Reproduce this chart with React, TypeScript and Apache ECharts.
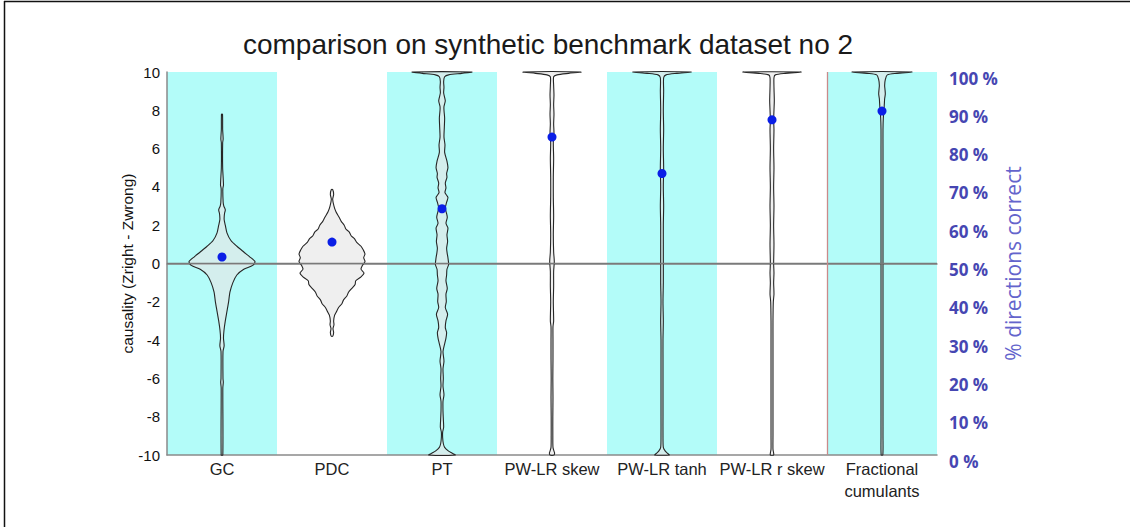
import React, { useEffect, useRef } from "react";
import * as echarts from "echarts";

// Methods compared on the benchmark
const categories = [
  "GC",
  "PDC",
  "PT",
  "PW-LR skew",
  "PW-LR tanh",
  "PW-LR r skew",
  "Fractional\ncumulants",
];

// Share of correctly identified directions per method (%)
const percentCorrect = [51.7, 55.6, 64.3, 83.0, 73.5, 87.5, 89.8];

// Causality axis range and step
const causalityMin = -10;
const causalityMax = 10;
const causalityStep = 2;

// Percent axis range and step
const percentMin = 0;
const percentMax = 100;
const percentStep = 10;

// Violin outlines: [causality value, relative density (100 = widest)]
const violinGC: [number, number][] = [
  [7.8, 1.5], [7.0, 2], [6.5, 3.5], [6.3, 2], [5.0, 2], [4.1, 4.5], [3.9, 2.5],
  [3.2, 3.5], [3.0, 5.5], [2.8, 10], [2.6, 7.5], [2.3, 6.5], [2.0, 10], [1.6, 15],
  [1.2, 27], [0.9, 45], [0.6, 66], [0.35, 84], [0.1, 100], [-0.1, 93], [-0.3, 66],
  [-0.6, 45], [-1.0, 33], [-1.5, 24], [-2.0, 20], [-2.5, 15], [-3.0, 10], [-3.5, 6],
  [-3.9, 4.5], [-4.3, 6.5], [-4.6, 3], [-6.0, 3], [-6.2, 4], [-6.5, 2.5], [-10, 2.5],
];
const violinPDC: [number, number][] = [
  [3.86, 2], [3.6, 5], [3.35, 2], [3.0, 6], [2.7, 12], [2.4, 22], [2.2, 28], [2.0, 37],
  [1.8, 42], [1.65, 52], [1.45, 58], [1.3, 68], [1.1, 75], [0.9, 88], [0.7, 95],
  [0.5, 100], [0.3, 96], [0.1, 100], [-0.1, 92], [-0.3, 88], [-0.5, 97], [-0.7, 88],
  [-0.9, 72], [-1.1, 70], [-1.3, 60], [-1.5, 50], [-1.7, 45], [-1.9, 35], [-2.1, 30],
  [-2.3, 20], [-2.5, 14], [-2.7, 8], [-3.0, 5], [-3.2, 6], [-3.4, 3], [-3.6, 5], [-3.8, 2],
];
const violinPT: [number, number][] = [
  [10, 90], [9.93, 60], [9.85, 20], [9.75, 8], [9.5, 5], [9.2, 6], [8.9, 5], [8.5, 10],
  [8.2, 6], [8.0, 6], [7.6, 8], [7.1, 7], [6.6, 6], [6.2, 9], [5.8, 8], [5.35, 15],
  [5.0, 18], [4.7, 14], [4.5, 15], [4.2, 10], [3.95, 12], [3.7, 9], [3.45, 18],
  [3.2, 14], [2.9, 10], [2.6, 14], [2.4, 16], [2.1, 12], [1.85, 18], [1.5, 15],
  [1.15, 17], [0.8, 14], [0.5, 16], [0.3, 18], [-0.05, 20], [-0.3, 15], [-0.6, 14],
  [-0.9, 12], [-1.3, 16], [-1.6, 12], [-2.0, 13], [-2.3, 10], [-2.65, 17], [-3.0, 12],
  [-3.35, 10], [-3.6, 14], [-3.9, 12], [-4.2, 8], [-4.6, 3], [-5.1, 6], [-5.5, 3],
  [-6.0, 4], [-6.4, 3], [-6.85, 6], [-7.2, 3], [-7.7, 3], [-8.1, 4], [-8.55, 5],
  [-8.8, 2], [-9.1, 2], [-9.4, 4], [-9.6, 8], [-9.8, 20], [-9.9, 30], [-10, 40],
];
const violinSkew: [number, number][] = [
  [10, 88], [9.93, 50], [9.85, 15], [9.75, 5], [9.3, 5], [8.8, 6], [8.3, 5], [7.8, 6],
  [7.3, 5], [6.8, 6], [6.3, 4], [5.5, 5], [4.5, 4], [3.5, 4], [2.5, 5], [1.5, 4],
  [0.6, 5], [0.1, 7], [-0.4, 5], [-1.2, 5], [-2.0, 4], [-3.0, 5], [-3.3, 3], [-4.0, 3],
  [-5.0, 3], [-6.0, 2.5], [-7.0, 3], [-8.0, 2.5], [-9.0, 2.5], [-9.6, 3], [-9.8, 6],
  [-9.9, 8], [-10, 6],
];
const violinTanh: [number, number][] = [
  [10, 88], [9.93, 45], [9.85, 12], [9.7, 5], [9.0, 5], [8.0, 4], [7.0, 5], [6.0, 4],
  [5.0, 5], [4.0, 4], [3.0, 5], [2.0, 4], [1.0, 4], [0.0, 4], [-1.0, 4], [-2.0, 3],
  [-3.0, 4], [-4.0, 3], [-5.0, 3], [-6.0, 3], [-7.0, 3], [-8.0, 3], [-9.0, 3],
  [-9.6, 4], [-9.8, 10], [-9.9, 16], [-10, 22],
];
const violinRSkew: [number, number][] = [
  [10, 88], [9.93, 40], [9.85, 10], [9.7, 6], [9.2, 6], [8.5, 7], [8.0, 6], [7.5, 5],
  [7.0, 6], [6.0, 5], [5.0, 6], [4.0, 5], [3.0, 6], [2.0, 5], [1.0, 6], [0.0, 5],
  [-0.5, 6], [-1.0, 5], [-1.6, 6], [-2.0, 4], [-3.0, 3], [-4.0, 3], [-5.0, 3],
  [-6.0, 3], [-7.0, 3], [-8.0, 3], [-9.0, 3], [-9.7, 3], [-9.9, 5], [-10, 5],
];
const violinFractional: [number, number][] = [
  [10, 90], [9.93, 45], [9.85, 16], [9.6, 10], [9.3, 8], [9.1, 9], [8.85, 10],
  [8.6, 8], [8.3, 7], [8.0, 6], [7.6, 4], [7.0, 3], [6.0, 3], [5.0, 3], [4.0, 3],
  [3.0, 3], [2.0, 3], [1.0, 3], [0.0, 3], [-1.0, 3], [-2.0, 3], [-3.0, 3], [-4.0, 3],
  [-5.0, 3], [-6.0, 3], [-7.0, 3], [-8.0, 3], [-9.0, 3], [-10, 2.5],
];

const violins = [
  violinGC,
  violinPDC,
  violinPT,
  violinSkew,
  violinTanh,
  violinRSkew,
  violinFractional,
];

const TITLE = "comparison on synthetic benchmark dataset no 2";
const AXIS_GRAY = "#8a8a8a";
const BAND_CYAN = "#b3fcf9";
const PERCENT_BLUE = "#4646b2";

export default function App() {
  const ref = useRef<HTMLDivElement>(null);

  useEffect(() => {
    if (!ref.current) return;
    const chart = echarts.init(ref.current, undefined, { renderer: "svg" });

    const renderViolin = (params: any, api: any) => {
      const idx = api.value(0);
      const profile = violins[idx];
      const band = api.size([1, 0])[0];
      const scale = (band * 0.3) / 100;
      const left: number[][] = [];
      const right: number[][] = [];
      profile.forEach(([y, d]) => {
        const p = api.coord([idx, y]);
        const w = d * scale;
        left.push([p[0] - w, p[1]]);
        right.push([p[0] + w, p[1]]);
      });
      const points = left.concat(right.reverse());
      return {
        type: "polygon",
        shape: { points, smooth: 0.25 },
        style: {
          fill: "rgba(230,230,230,0.65)",
          stroke: "#262626",
          lineWidth: 1.1,
        },
      };
    };

    chart.setOption({
      animation: false,
      backgroundColor: "#ffffff",
      textStyle: { fontFamily: "Liberation Sans" },
      grid: { left: 167, right: 193, top: 72, bottom: 72, containLabel: false },
      graphic: [
        {
          type: "text",
          x: 548,
          y: 44,
          style: {
            text: TITLE,
            textAlign: "center",
            textVerticalAlign: "middle",
            fontSize: 28,
            fontFamily: "Liberation Sans",
            fill: "#1a1a1a",
          },
        },
        {
          type: "line",
          shape: { x1: 4, y1: 1.5, x2: 1130, y2: 1.5 },
          style: { stroke: "#111", lineWidth: 1.5 },
        },
        {
          type: "line",
          shape: { x1: 4.5, y1: 1, x2: 4.5, y2: 527 },
          style: { stroke: "#111", lineWidth: 1.5 },
        },
      ],
      xAxis: [
        {
          type: "category",
          data: categories,
          boundaryGap: true,
          axisLine: { show: true, lineStyle: { color: AXIS_GRAY, width: 1.5 } },
          axisTick: { show: false, interval: 0 },
          axisLabel: {
            interval: 0,
            fontSize: 16.5,
            color: "#222",
            margin: 3,
            lineHeight: 22,
            fontFamily: "Liberation Sans",
          },
          splitLine: { show: false },
          splitArea: {
            show: true,
            interval: 0,
            areaStyle: { color: [BAND_CYAN, "rgba(255,255,255,0)"] },
          },
        },
        {
          type: "value",
          min: 0,
          max: categories.length,
          position: "top",
          axisLine: { show: true, lineStyle: { color: AXIS_GRAY, width: 1.5 } },
          axisTick: { show: false },
          axisLabel: { show: false },
          splitLine: { show: false },
        },
      ],
      yAxis: [
        {
          type: "value",
          min: causalityMin,
          max: causalityMax,
          interval: causalityStep,
          axisLine: { show: true, lineStyle: { color: AXIS_GRAY, width: 1.5 } },
          axisTick: { show: false },
          splitLine: { show: false },
          axisLabel: { fontSize: 15, color: "#111", margin: 7 },
          name: "causality (Zright - Zwrong)",
          nameLocation: "middle",
          nameGap: 32,
          nameMoveOverlap: false,
          nameTextStyle: { fontSize: 15.5, color: "#111" },
        },
        {
          type: "value",
          position: "right",
          min: percentMin,
          max: percentMax,
          interval: percentStep,
          axisLine: { show: false },
          axisTick: { show: false },
          splitLine: { show: false },
          axisLabel: {
            formatter: "{value} %",
            fontSize: 17,
            fontWeight: "bold",
            color: PERCENT_BLUE,
            fontFamily: "Open Sans",
            margin: 12,
            verticalAlign: "top",
            lineHeight: 12,
          },
          name: "% directions correct",
          nameLocation: "middle",
          nameRotate: 90,
          nameGap: 65,
          nameMoveOverlap: false,
          nameTextStyle: {
            fontSize: 21,
            color: "#6464cc",
            fontFamily: "Open Sans",
          },
        },
      ],
      series: [
        {
          type: "custom",
          name: "violins",
          xAxisIndex: 0,
          yAxisIndex: 0,
          renderItem: renderViolin,
          data: categories.map((_, i) => [i, 0]),
          encode: { x: 0, y: 1 },
          z: 3,
          markLine: {
            silent: true,
            symbol: "none",
            label: { show: false },
            lineStyle: { color: "#7a7a7a", width: 1.3, type: "solid" },
            data: [{ yAxis: 0 }],
          },
        },
        {
          type: "scatter",
          name: "boundary",
          xAxisIndex: 1,
          yAxisIndex: 0,
          data: [],
          markLine: {
            silent: true,
            symbol: "none",
            label: { show: false },
            lineStyle: { color: "#c98a8a", width: 1.3, type: "solid" },
            data: [{ xAxis: categories.length - 1 }],
          },
        },
        {
          type: "scatter",
          name: "% directions correct",
          xAxisIndex: 0,
          yAxisIndex: 1,
          data: percentCorrect,
          symbol: "circle",
          symbolSize: 9,
          itemStyle: { color: "#0a1ee6", opacity: 1 },
          z: 5,
        },
      ],
    });

    return () => chart.dispose();
  }, []);

  return (
    <div
      ref={ref}
      style={{ position: "fixed", left: 0, top: 0, width: 1130, height: 527 }}
    />
  );
}
